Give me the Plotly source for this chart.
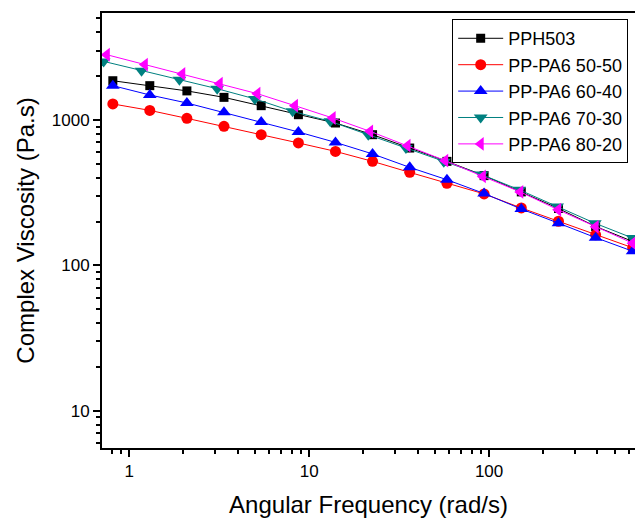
import plotly.graph_objects as go

# angular frequency (rad/s), per series
freq = [0.81, 1.30, 2.09, 3.36, 5.41, 8.71, 14.0, 22.5, 36.2, 58.3, 93.8, 151, 243, 391, 628]
freq_7030 = [0.72, 1.17, 1.90, 3.08, 4.99, 8.09, 13.1, 21.3, 34.5, 56.0, 90.8, 147, 239, 387, 628]
freq_8020 = [0.75, 1.22, 1.97, 3.18, 5.15, 8.33, 13.5, 21.8, 35.2, 57.0, 92.3, 149, 242, 391, 628]

# complex viscosity (Pa.s)
pph503 = [1862, 1722, 1585, 1431, 1254, 1087, 953, 792, 641, 519, 414, 320, 246, 185, 146]
pa6_5050 = [1289, 1164, 1026, 904, 792, 695, 608, 519, 436, 367, 310, 248, 201, 162, 132]
pa6_6040 = [1722, 1486, 1309, 1128, 969, 827, 701, 584, 472, 388, 312, 244, 195, 155, 125]
pa6_7030 = [2530, 2183, 1892, 1641, 1396, 1146, 978, 792, 641, 515, 421, 331, 254, 195, 154]
pa6_8020 = [2812, 2404, 2074, 1778, 1517, 1254, 1032, 835, 666, 525, 409, 320, 241, 184, 142]

series = [
    ("PPH503", freq, pph503, "black", "square", 9),
    ("PP-PA6 50-50", freq, pa6_5050, "#ff0000", "circle", 11),
    ("PP-PA6 60-40", freq, pa6_6040, "#0000ff", "triangle-up", 12),
    ("PP-PA6 70-30", freq_7030, pa6_7030, "#008080", "triangle-down", 12),
    ("PP-PA6 80-20", freq_8020, pa6_8020, "#ff00ff", "triangle-left", 12),
]

fig = go.Figure()
for name, x, y, color, symbol, size in series:
    fig.add_trace(go.Scatter(
        x=x, y=y, name=name, mode="lines+markers",
        line=dict(color=color, width=1),
        marker=dict(symbol=symbol, size=size, color=color),
    ))

axis_font = dict(family="Liberation Sans, Arial, sans-serif", size=24, color="black")
tick_font = dict(family="Liberation Sans, Arial, sans-serif", size=17, color="black")

fig.update_xaxes(
    type="log", range=[-0.1517, 2.811],
    title=dict(text="Angular Frequency (rad/s)", font=axis_font, standoff=16),
    tickfont=tick_font, tickvals=[1, 10, 100], ticktext=["1", "10", "100"],
    ticks="outside", ticklen=7, tickwidth=1.5, tickcolor="black",
    minor=dict(ticks="outside", ticklen=4, tickwidth=1.5, tickcolor="black", dtick="D1", showgrid=False),
    showline=True, linecolor="black", linewidth=2, mirror=True,
    showgrid=False, zeroline=False,
)
fig.update_yaxes(
    type="log", range=[0.743, 3.736],
    title=dict(text="Complex Viscosity (Pa.s)", font=axis_font, standoff=10),
    tickfont=tick_font, tickvals=[10, 100, 1000], ticktext=["10", "100", "1000"],
    ticks="outside", ticklen=7, tickwidth=1.5, tickcolor="black",
    minor=dict(ticks="outside", ticklen=4, tickwidth=1.5, tickcolor="black", dtick="D1", showgrid=False),
    showline=True, linecolor="black", linewidth=2, mirror=False,
    showgrid=False, zeroline=False,
)

fig.update_layout(
    width=635, height=518,
    margin=dict(l=102, r=0, t=13, b=70),
    plot_bgcolor="white", paper_bgcolor="white",
    font=dict(family="Liberation Sans, Arial, sans-serif", color="black"),
    legend=dict(
        x=0.657, y=0.986, xanchor="left", yanchor="top",
        bordercolor="black", borderwidth=1, bgcolor="white",
        font=dict(family="Liberation Sans, Arial, sans-serif", size=18, color="black"),
        itemwidth=45, tracegroupgap=0,
    ),
)

# drop the default body margin so the figure sits at the page corner
fig.write_html("out.html", config={"displayModeBar": False},
               post_script="document.body.style.margin='0';")
